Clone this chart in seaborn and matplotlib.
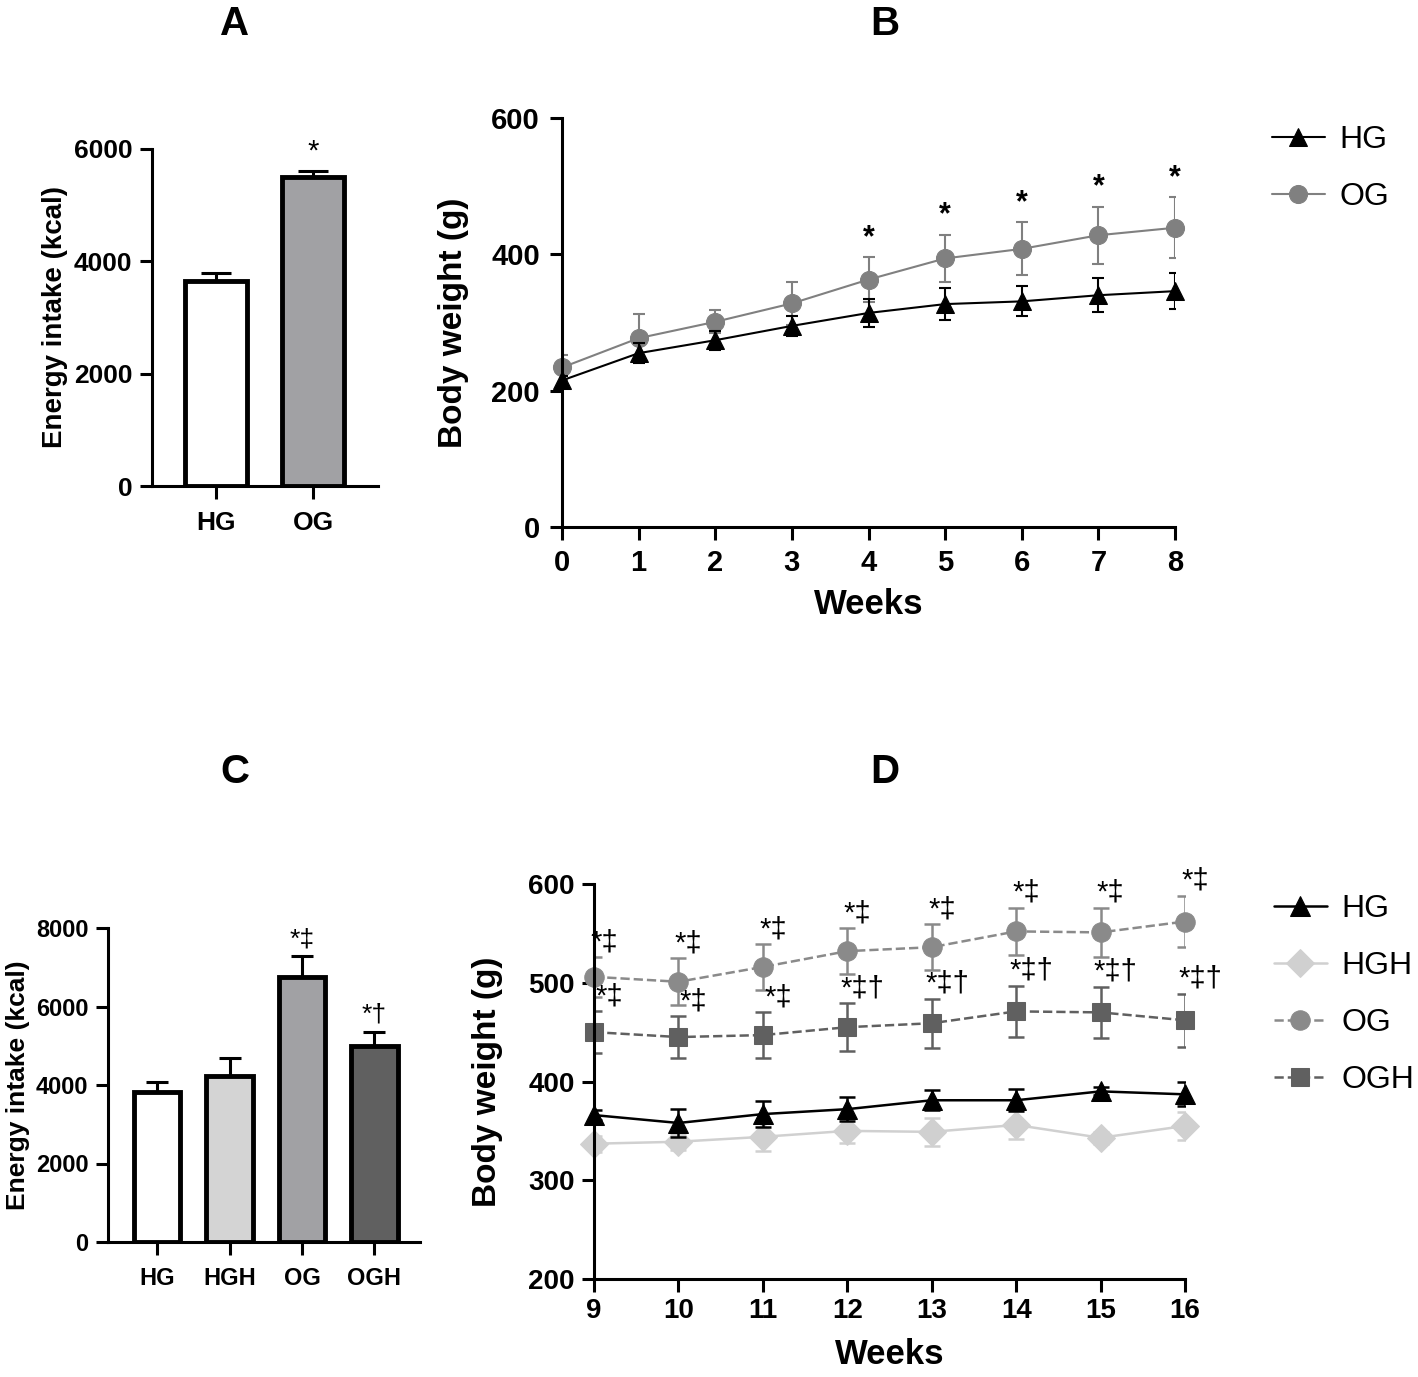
import numpy as np
import pandas as pd
import matplotlib
matplotlib.use("Agg")
import matplotlib.pyplot as plt
import seaborn as sns

# ---- data ----
groups_a = ["HG", "OG"]
intake_a = [3650, 5500]
intake_a_sem = [140, 110]
sig_a = ["", "*"]

weeks_b = [0, 1, 2, 3, 4, 5, 6, 7, 8]
hg_b = [215, 255, 274, 295, 314, 327, 331, 340, 346]
hg_b_sem = [6, 15, 14, 15, 20, 23, 22, 25, 26]
og_b = [234, 277, 301, 328, 363, 394, 408, 428, 439]
og_b_sem = [19, 35, 17, 31, 33, 35, 39, 42, 45]
sig_b = ["", "", "", "", "*", "*", "*", "*", "*"]

groups_c = ["HG", "HGH", "OG", "OGH"]
intake_c = [3814, 4222, 6752, 4986]
intake_c_sem = [254, 458, 528, 374]
sig_c = ["", "", "*‡", "*†"]

weeks_d = [9, 10, 11, 12, 13, 14, 15, 16]
hg_d = [366, 358, 367, 372, 381, 381, 390, 387]
hg_d_sem = [5, 14, 13, 12, 10, 11, 4, 12]
hgh_d = [337, 339, 344, 350, 349, 356, 343, 355]
hgh_d_sem = [8, 8, 14, 12, 14, 14, 6, 14]
og_d = [506, 501, 516, 532, 536, 552, 551, 562]
og_d_sem = [20, 24, 23, 23, 23, 24, 25, 26]
ogh_d = [450, 445, 447, 455, 459, 471, 470, 462]
ogh_d_sem = [21, 21, 23, 24, 25, 26, 26, 27]
sig_og_d = ["*‡"] * 8
sig_ogh_d = ["*‡", "*‡", "*‡", "*‡†", "*‡†", "*‡†", "*‡†", "*‡†"]

# ---- style ----
sns.set_style("ticks")
plt.rcParams["font.family"] = ["Liberation Sans", "DejaVu Sans"]
plt.rcParams["font.weight"] = "bold"
plt.rcParams["axes.labelweight"] = "bold"
plt.rcParams["axes.linewidth"] = 2.2
for key in ["text.color", "axes.labelcolor", "xtick.color", "ytick.color", "axes.edgecolor"]:
    plt.rcParams[key] = "black"

fig = plt.figure(figsize=(14.18, 13.77), dpi=100)
W, H = 1418, 1377


def px_axes(x0, y0, x1, y1):
    # pixel box (left, top, right, bottom) -> figure axes
    return fig.add_axes([x0 / W, 1 - y1 / H, (x1 - x0) / W, (y1 - y0) / H])


def style_axes(ax, fs, pad=6):
    sns.despine(ax=ax)
    ax.tick_params(width=2.2, length=9, labelsize=fs, direction="out", pad=pad)
    for lab in ax.get_xticklabels() + ax.get_yticklabels():
        lab.set_fontweight("bold")


def bar_panel(ax, groups, values, sems, colors, capsize, sig, fs, lab_fs, xlim, ylim, yticks):
    df = pd.DataFrame({"group": groups, "value": values})
    sns.barplot(data=df, x="group", y="value", hue="group", palette=colors,
                legend=False, width=0.64, edgecolor="black", linewidth=3.5,
                errorbar=None, ax=ax, zorder=3)
    ax.errorbar(range(len(groups)), values, yerr=[np.zeros(len(sems)), sems],
                fmt="none", ecolor="black", elinewidth=2.2, capsize=capsize,
                capthick=2.2, zorder=2)
    for i, s in enumerate(sig):
        if s:
            ax.text(i, values[i] + sems[i] + ylim[1] * 0.015, s, ha="center",
                    va="bottom", fontsize=fs + 2, fontweight="normal")
    ax.set_xlim(*xlim)
    ax.set_ylim(*ylim)
    ax.set_yticks(yticks)
    ax.set_xlabel("")
    ax.set_ylabel("Energy intake (kcal)", fontsize=lab_fs, labelpad=4)
    style_axes(ax, fs, pad=5)
    ax.tick_params(axis="x", pad=9)


# ---- A ----
axA = px_axes(152, 149, 378, 486)
bar_panel(axA, groups_a, intake_a, intake_a_sem, ["white", "#a0a0a5"], 11, sig_a,
          19, 20, (-0.66, 1.67), (0, 6000), [0, 2000, 4000, 6000])

# ---- B ----
axB = px_axes(562, 118, 1175, 527)
for y, e, col, mk, lab in [(og_b, og_b_sem, "#808080", "o", "OG"),
                           (hg_b, hg_b_sem, "black", "^", "HG")]:
    axB.errorbar(weeks_b, y, yerr=e, fmt="none", ecolor=col,
                 elinewidth=1.5, capsize=4.5, capthick=1.5)
    sns.lineplot(x=weeks_b, y=y, color=col, marker=mk, markersize=13,
                 markeredgecolor=col, linewidth=1.5, label=lab, ax=axB, clip_on=False)
for i, s in enumerate(sig_b):
    if s:
        axB.text(weeks_b[i], og_b[i] + og_b_sem[i] + 6, s, ha="center", va="bottom",
                 fontsize=22, fontweight="bold")
axB.set_xlim(0, 8)
axB.set_ylim(0, 600)
axB.set_xticks(weeks_b)
axB.set_yticks([0, 200, 400, 600])
axB.set_xlabel("Weeks", fontsize=25, labelpad=8)
axB.set_ylabel("Body weight (g)", fontsize=24, labelpad=16)
style_axes(axB, 21, pad=7)
h, l = axB.get_legend_handles_labels()
order = [l.index("HG"), l.index("OG")]
axB.legend([h[k] for k in order], [l[k] for k in order], loc="upper left",
           bbox_to_anchor=(1272 / W, 1 - 125 / H), bbox_transform=fig.transFigure,
           frameon=False, borderpad=0, borderaxespad=0, handlelength=1.65,
           handletextpad=0.45, labelspacing=0.85, prop={"size": 23, "weight": "normal"})

# ---- C ----
axC = px_axes(108, 928, 420, 1242)
bar_panel(axC, groups_c, intake_c, intake_c_sem,
          ["white", "#d4d4d4", "#a0a0a5", "#606060"], 8, sig_c,
          17, 19, (-0.68, 3.63), (0, 8000), [0, 2000, 4000, 6000, 8000])

# ---- D ----
axD = px_axes(594, 884, 1185, 1279)
series_d = [
    (hgh_d, hgh_d_sem, "#d0d0d0", "D", 14, "-", "HGH"),
    (hg_d, hg_d_sem, "black", "^", 14, "-", "HG"),
    (ogh_d, ogh_d_sem, "#606060", "s", 13, "--", "OGH"),
    (og_d, og_d_sem, "#8a8a8a", "o", 14, "--", "OG"),
]
for y, e, col, mk, ms, ls, lab in series_d:
    axD.errorbar(weeks_d, y, yerr=e, fmt="none", ecolor=col, elinewidth=1.8,
                 capsize=5.5, capthick=1.8)
    sns.lineplot(x=weeks_d, y=y, color=col, marker=mk, markersize=ms,
                 markeredgecolor=col, linewidth=1.8, linestyle=ls, label=lab,
                 ax=axD, clip_on=False)
for i in range(len(weeks_d)):
    axD.text(weeks_d[i] + 0.12, og_d[i] + og_d_sem[i] + 1, sig_og_d[i], ha="center",
             va="bottom", fontsize=21, fontweight="normal")
    axD.text(weeks_d[i] + 0.18, ogh_d[i] + ogh_d_sem[i] + 1, sig_ogh_d[i], ha="center",
             va="bottom", fontsize=21, fontweight="normal")
axD.set_xlim(9, 16)
axD.set_ylim(200, 600)
axD.set_xticks(weeks_d)
axD.set_yticks([200, 300, 400, 500, 600])
axD.set_xlabel("Weeks", fontsize=25, labelpad=10)
axD.set_ylabel("Body weight (g)", fontsize=24, labelpad=18)
style_axes(axD, 20, pad=5)
h, l = axD.get_legend_handles_labels()
order = [l.index(n) for n in ["HG", "HGH", "OG", "OGH"]]
axD.legend([h[k] for k in order], [l[k] for k in order], loc="upper left",
           bbox_to_anchor=(1274 / W, 1 - 894 / H), bbox_transform=fig.transFigure,
           frameon=False, borderpad=0, borderaxespad=0, handlelength=1.65,
           handletextpad=0.45, labelspacing=0.85, prop={"size": 23, "weight": "normal"})

# ---- panel letters ----
for letter, x, y in [("A", 235, 24), ("B", 885, 24), ("C", 235, 772), ("D", 885, 772)]:
    fig.text(x / W, 1 - y / H, letter, ha="center", va="center", fontsize=29,
             fontweight="bold")

fig.savefig("out.png", dpi=100)
